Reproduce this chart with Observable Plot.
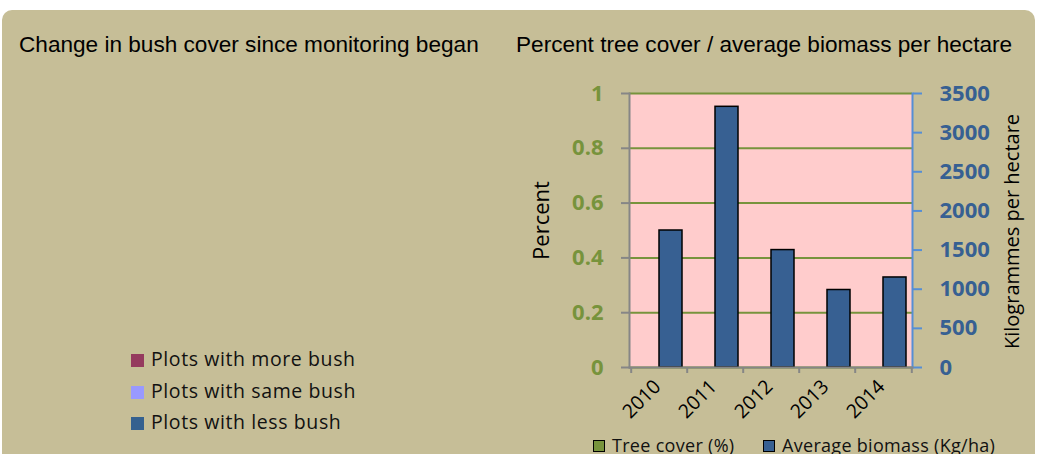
<!DOCTYPE html>
<html>
<head>
<meta charset="utf-8">
<script src="https://cdn.jsdelivr.net/npm/d3@7"></script>
<script src="https://cdn.jsdelivr.net/npm/@observablehq/plot@0.6"></script>
<style>
  html, body { margin: 0; padding: 0; background: #ffffff; }
  #wrap { position: relative; width: 1037px; height: 454px; overflow: hidden; }
  #panel { position: absolute; left: 2px; top: 10px; width: 1033px; height: 470px; background: #C6BE97; border-radius: 10px; }
  #chart { position: absolute; left: 0; top: 0; }
  .title { position: absolute; font-family: "Liberation Sans", Arial, sans-serif; font-size: 22.6px; color: #000; white-space: nowrap; line-height: 26px; }
  .leg { position: absolute; font-family: "Open Sans", sans-serif; font-size: 19.5px; color: #111; white-space: nowrap; letter-spacing: 0.6px; line-height: 26px; }
  .bleg { position: absolute; font-family: "Open Sans", sans-serif; font-size: 18px; color: #111; white-space: nowrap; letter-spacing: 0.3px; }
  .sw { display: inline-block; width: 13px; height: 13px; margin-right: 7px; vertical-align: -1px; }
  .bsw { display: inline-block; width: 10px; height: 10px; border: 1px solid #000; margin-right: 7px; vertical-align: 0px; }
</style>
</head>
<body>
<div id="wrap">
  <div id="panel"></div>
  <div id="chart"></div>
  <div id="texts"></div>
</div>
<script>
// ---- data ----
const years = ["2010", "2011", "2012", "2013", "2014"];
const biomass = [1750, 3330, 1500, 990, 1150];          // Average biomass (Kg/ha)
const treeCover = [0, 0, 0, 0, 0];                      // Tree cover (%) – not visible in chart
const percentTicks = [0, 0.2, 0.4, 0.6, 0.8, 1];
const percentTickLabels = ["0", "0.2", "0.4", "0.6", "0.8", "1"];
const biomassTicks = [0, 500, 1000, 1500, 2000, 2500, 3000, 3500];
const biomassMax = 3500;
const bushCategories = ["Plots with more bush", "Plots with same bush", "Plots with less bush"];
const bushColors = ["#953A5E", "#9999FF", "#35618F"];
const seriesNames = ["Tree cover (%)", "Average biomass (Kg/ha)"];
const seriesColors = ["#77933C", "#376092"];
const titleLeft = "Change in bush cover since monitoring began";
const titleRight = "Percent tree cover / average biomass per hectare";
const yTitleLeft = "Percent";
const yTitleRight = "Kilogrammes per hectare";

const rows = years.map((y, i) => ({year: y, biomass: biomass[i], tree: treeCover[i] * biomassMax}));
const pctAsBio = percentTicks.map(p => p * biomassMax);

const gray = "#868686";
const axisFont = "Open Sans, sans-serif";

const chart = Plot.plot({
  width: 1037,
  height: 454,
  marginLeft: 629,
  marginRight: 125,
  marginTop: 93,
  marginBottom: 87,
  style: {background: "transparent", fontFamily: axisFont, overflow: "visible"},
  x: {type: "band", domain: years, padding: 0, axis: null},
  y: {domain: [0, biomassMax], axis: null},
  marks: [
    Plot.frame({fill: "#FFCCCC", stroke: null}),
    Plot.ruleY(pctAsBio, {stroke: "#77933C", strokeWidth: 2}),
    Plot.barY(rows, {x: "year", y: "tree", fill: seriesColors[0], insetLeft: 5, insetRight: 29}),
    Plot.barY(rows, {x: "year", y: "biomass", fill: seriesColors[1], stroke: "#000", strokeWidth: 1.5, insetLeft: 28, insetRight: 5}),
    // left axis
    Plot.axisY(pctAsBio, {anchor: "left", label: null, tickSize: 8, stroke: gray, strokeWidth: 2, tickPadding: 18,
      tickFormat: (d, i) => percentTickLabels[i], fill: "#77933C", fontWeight: "bold", fontSize: 22, fontFamily: axisFont}),
    Plot.frame({anchor: "left", stroke: gray, strokeWidth: 2}),
    // right axis
    Plot.axisY(biomassTicks, {anchor: "right", label: null, tickSize: 9, stroke: "#558ED5", strokeWidth: 2, tickPadding: 18,
      fill: "#376092", fontWeight: "bold", fontSize: 22, fontFamily: axisFont, tickFormat: d => String(d)}),
    Plot.frame({anchor: "right", stroke: "#558ED5", strokeWidth: 2}),
    // bottom axis
    Plot.frame({anchor: "bottom", stroke: gray, strokeWidth: 2}),
    Plot.axisX(years, {label: null, tickSize: 6, stroke: gray, strokeWidth: 2, fill: "none", dx: -28.3}),
    Plot.axisX(years.slice(-1), {label: null, tickSize: 6, stroke: gray, strokeWidth: 2, fill: "none", dx: 28.3}),
    Plot.axisX(years, {label: null, tickSize: 0, tickRotate: -45, tickPadding: 16, dx: -2, fill: "#000", fontSize: 19.5, fontFamily: axisFont}),
    // axis titles
    Plot.text([yTitleLeft], {frameAnchor: "left", textAnchor: "middle", text: d => d, rotate: -90, dx: -88, dy: -10, fontSize: 22, fontFamily: axisFont, fill: "#000", letterSpacing: "2px"}),
    Plot.text([yTitleRight], {frameAnchor: "right", textAnchor: "middle", text: d => d, rotate: -90, dx: 100, dy: 1, fontSize: 20, fontFamily: axisFont, fill: "#000", letterSpacing: "2.1px"})
  ]
});
document.getElementById("chart").appendChild(chart);

// ---- HTML text: titles and legends ----
const t = document.getElementById("texts");
function add(html, cls, left, top) {
  const d = document.createElement("div");
  d.className = cls;
  d.style.left = left + "px";
  d.style.top = top + "px";
  d.innerHTML = html;
  t.appendChild(d);
  return d;
}
add(titleLeft, "title", 19, 32);
add(titleRight, "title", 516, 32);
bushCategories.forEach((c, i) => {
  add(`<span class="sw" style="background:${bushColors[i]}"></span>${c}`, "leg", 131, 346 + i * 31.5);
});
add(`<span class="bsw" style="background:${seriesColors[0]}"></span>${seriesNames[0]}`, "bleg", 593, 433);
add(`<span class="bsw" style="background:${seriesColors[1]}"></span>${seriesNames[1]}`, "bleg", 763, 433);
</script>
</body>
</html>
